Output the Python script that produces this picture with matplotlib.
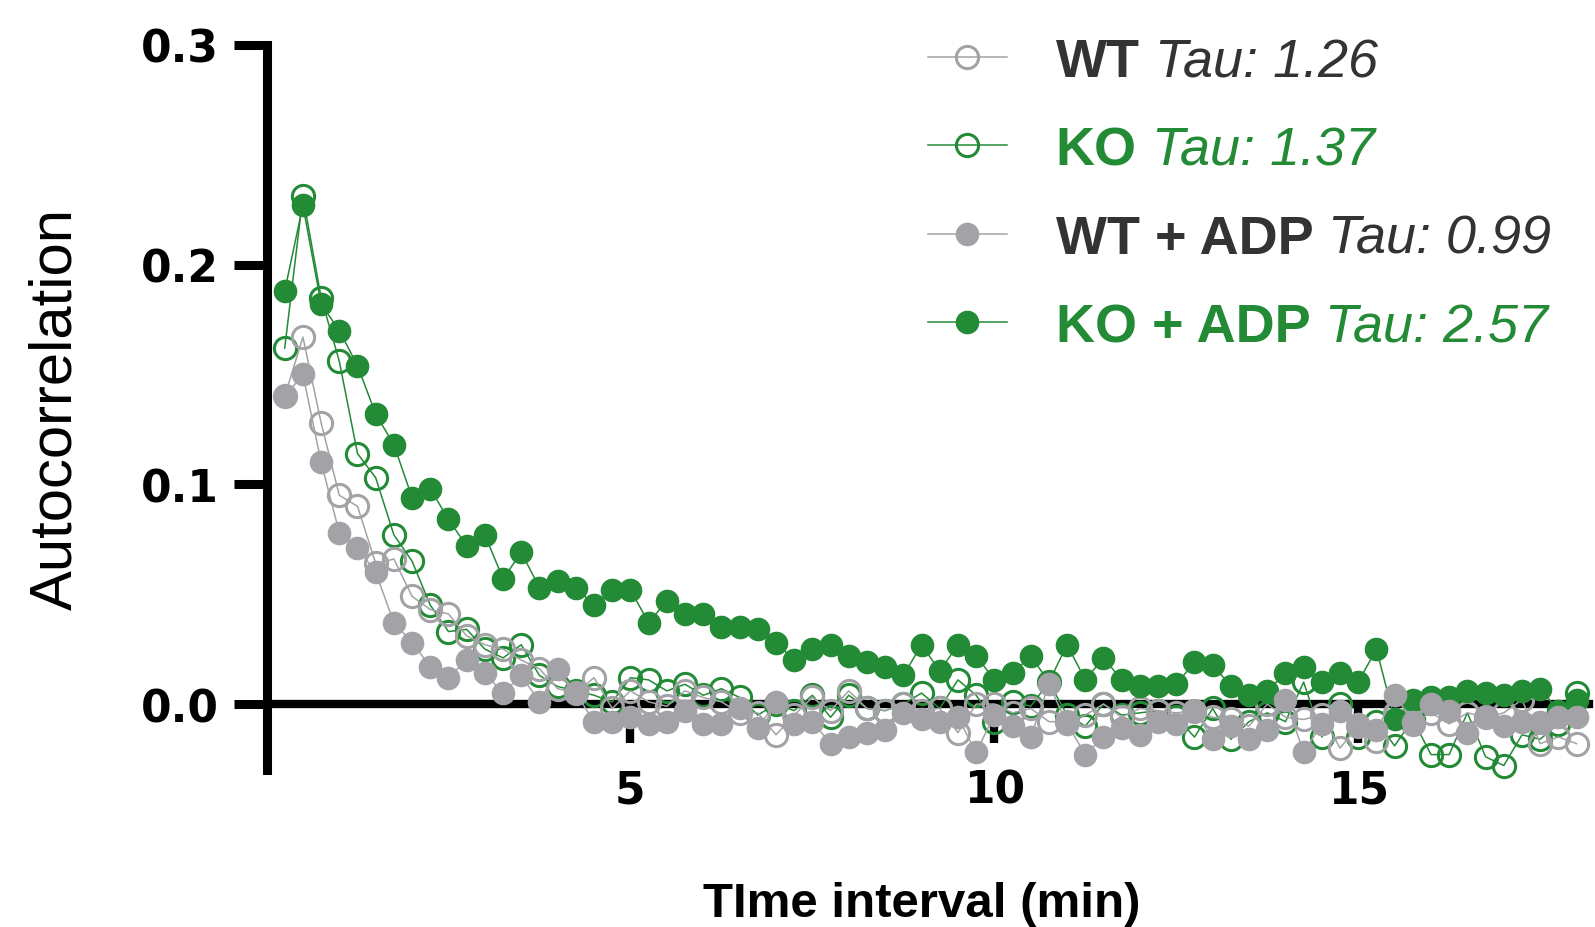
import numpy as np
import matplotlib
matplotlib.use("Agg")
import matplotlib.pyplot as plt

# time lag (min), sampled every 15 s
time_min = np.arange(1, 73) * 0.25

wt = [0.140, 0.167, 0.128, 0.095, 0.090, 0.064, 0.066, 0.049, 0.043, 0.041,
      0.031, 0.027, 0.025, 0.020, 0.016, 0.007, 0.005, 0.012, -0.002, 0.006,
      0.001, -0.001, 0.006, 0.003, 0.001, -0.004, -0.004, -0.014, -0.005, 0.003,
      -0.003, 0.006, -0.002, -0.003, 0.000, -0.003, -0.002, -0.013, 0.000, 0.000,
      -0.004, -0.002, -0.008, -0.008, -0.005, 0.000, -0.006, -0.002, -0.003, -0.004,
      -0.003, -0.006, -0.007, -0.010, 0.000, -0.006, -0.007, -0.005, -0.020, -0.010,
      -0.017, -0.004, -0.009, -0.004, -0.009, -0.004, -0.006, -0.004, 0.002, -0.018,
      -0.015, -0.018]

ko = [0.162, 0.231, 0.185, 0.156, 0.114, 0.103, 0.077, 0.065, 0.045, 0.033,
      0.034, 0.025, 0.021, 0.027, 0.013, 0.008, 0.006, 0.004, 0.001, 0.012,
      0.011, 0.006, 0.009, 0.004, 0.007, 0.003, -0.005, 0.000, -0.003, 0.004,
      -0.006, 0.004, -0.002, -0.003, 0.000, 0.005, -0.002, 0.011, 0.004, -0.008,
      0.001, -0.001, 0.010, -0.005, -0.010, 0.000, -0.005, -0.004, -0.003, -0.006,
      -0.015, -0.002, -0.016, -0.008, -0.004, -0.008, 0.010, -0.015, 0.000, -0.015,
      -0.008, -0.019, -0.007, -0.023, -0.023, -0.004, -0.024, -0.028, -0.014, -0.016,
      -0.009, 0.005]

wt_adp = [0.140, 0.150, 0.110, 0.078, 0.071, 0.060, 0.037, 0.028, 0.017, 0.012,
          0.020, 0.014, 0.005, 0.013, 0.001, 0.016, 0.005, -0.008, -0.008, -0.006,
          -0.009, -0.008, -0.003, -0.009, -0.009, -0.002, -0.011, 0.001, -0.009, -0.008,
          -0.018, -0.015, -0.013, -0.012, -0.004, -0.007, -0.008, -0.006, -0.022, -0.005,
          -0.010, -0.015, 0.009, -0.009, -0.023, -0.015, -0.011, -0.014, -0.008, -0.009,
          -0.003, -0.016, -0.010, -0.016, -0.012, 0.002, -0.022, -0.009, -0.003, -0.009,
          -0.012, 0.004, -0.008, 0.000, -0.003, -0.013, -0.006, -0.010, -0.008, -0.008,
          -0.006, -0.006]

ko_adp = [0.188, 0.227, 0.182, 0.170, 0.154, 0.132, 0.118, 0.094, 0.098, 0.084,
          0.072, 0.077, 0.057, 0.069, 0.053, 0.056, 0.053, 0.045, 0.052, 0.052,
          0.037, 0.047, 0.041, 0.041, 0.035, 0.035, 0.034, 0.028, 0.020, 0.025,
          0.027, 0.022, 0.019, 0.017, 0.013, 0.027, 0.015, 0.027, 0.022, 0.011,
          0.014, 0.022, 0.010, 0.027, 0.011, 0.021, 0.011, 0.008, 0.008, 0.009,
          0.019, 0.018, 0.008, 0.004, 0.006, 0.014, 0.017, 0.010, 0.014, 0.010,
          0.025, -0.007, 0.002, 0.003, 0.003, 0.006, 0.005, 0.004, 0.006, 0.007,
          -0.003, 0.002]

names = ["WT", "KO", "WT + ADP", "KO + ADP"]
taus = ["1.26", "1.37", "0.99", "2.57"]

GREEN = "#238a36"
GRAY = "#a3a2a7"
DARK = "#333333"

plt.rcParams["font.family"] = "DejaVu Sans"
plt.rcParams["font.weight"] = "bold"

W, H = 1595, 928
fig = plt.figure(figsize=(W / 100, H / 100), dpi=100)
ax = fig.add_axes([0.1671, 0.1692, 0.8291, 0.7814])

common = dict(marker="o", markersize=16, linewidth=1.1, clip_on=False)
h_wt, = ax.plot(time_min, wt, color=GRAY, mfc="none", mew=2.2, zorder=3, **common)
h_ko, = ax.plot(time_min, ko, color=GREEN, mfc="none", mew=2.2, zorder=2, **common)
h_wta, = ax.plot(time_min, wt_adp, color=GRAY, mec=GRAY, mfc=GRAY, zorder=5, **common)
h_koa, = ax.plot(time_min, ko_adp, color=GREEN, mec=GREEN, mfc=GREEN, zorder=4, **common)

ax.set_xlim(0, 18.17)
ax.set_ylim(-0.03, 0.3)
ax.spines["top"].set_visible(False)
ax.spines["right"].set_visible(False)
ax.spines["bottom"].set_position(("data", 0))
ax.spines["left"].set_linewidth(6.5)
ax.spines["bottom"].set_linewidth(6.0)
ax.spines["bottom"].set_zorder(1)

ax.set_xticks([5, 10, 15])
ax.set_yticks([0.0, 0.1, 0.2, 0.3])
ax.set_yticklabels(["0.0", "0.1", "0.2", "0.3"])
ax.tick_params(axis="y", length=23.5, width=6.5, pad=11, labelsize=31.6)
ax.tick_params(axis="x", length=28, width=6.0, pad=18.5, labelsize=31.6)

fig.text(56 / W, 1 - 409 / H, "Autocorrelation", rotation=90,
         ha="center", va="center", fontsize=43, fontweight="normal",
         family="Liberation Sans")
fig.text(922 / W, 1 - 905 / H, "TIme interval (min)", ha="center",
         va="center", fontsize=35.5, fontweight="bold", family="Liberation Sans")

handles = [h_wt, h_ko, h_wta, h_koa]
text_colors = [DARK, GREEN, DARK, GREEN]
leg = ax.legend(handles, names, loc="upper left",
                bbox_to_anchor=(928 / W, 0.959), bbox_transform=fig.transFigure,
                frameon=False, borderpad=0, borderaxespad=0, handlelength=1.46,
                handletextpad=0.9, labelspacing=0.71, markerscale=1.0,
                prop=dict(family="Liberation Sans", weight="bold", size=38.9))
for txt, col in zip(leg.get_texts(), text_colors):
    txt.set_color(col)

# italic tau values placed right after the bold legend names
fig.canvas.draw()
for txt, col, tau in zip(leg.get_texts(), text_colors, taus):
    bb = txt.get_window_extent()
    fig.text(bb.x1 / W, bb.y0 / H, " Tau: " + tau, va="bottom", ha="left",
             fontsize=38.9, family="Liberation Sans", style="italic",
             fontweight="normal", color=col)

fig.savefig("out.png", dpi=100)
